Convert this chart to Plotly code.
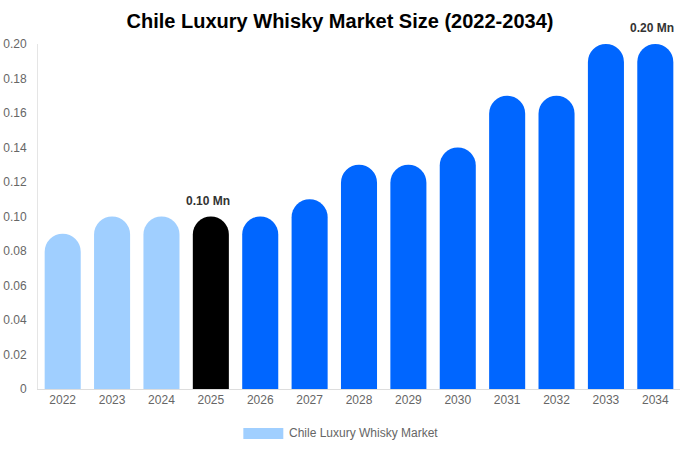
import plotly.graph_objects as go

# Chart data
years = ["2022", "2023", "2024", "2025", "2026", "2027", "2028",
         "2029", "2030", "2031", "2032", "2033", "2034"]
market_size = [0.09, 0.10, 0.10, 0.10, 0.10, 0.11, 0.13,
               0.13, 0.14, 0.17, 0.17, 0.20, 0.20]
tick_vals = [0, 0.02, 0.04, 0.06, 0.08, 0.10, 0.12, 0.14, 0.16, 0.18, 0.20]
tick_text = ["0", "0.02", "0.04", "0.06", "0.08", "0.10", "0.12",
             "0.14", "0.16", "0.18", "0.20"]
label_years = ["2025", "2034"]
label_text = ["0.10 Mn", "0.20 Mn"]

LIGHT = "#a0cfff"
DARK = "#000000"
BLUE = "#0066ff"

# past years light, base year black, forecast bright blue
colors = []
for y in years:
    if int(y) < 2025:
        colors.append(LIGHT)
    elif y == "2025":
        colors.append(DARK)
    else:
        colors.append(BLUE)

fig = go.Figure()
fig.add_trace(go.Bar(
    x=years,
    y=market_size,
    marker=dict(color=colors, cornerradius="50%", line=dict(width=0)),
    width=0.73,
    name="Chile Luxury Whisky Market",
    showlegend=False,
    hoverinfo="x+y",
))

# value labels, placed by category index
for yr, txt in zip(label_years, label_text):
    i = years.index(yr)
    fig.add_annotation(x=i, y=market_size[i], text="<b>" + txt + "</b>", showarrow=False,
                       xshift=-3, yshift=16, font=dict(size=12, color="#333333"))

# legend drawn by hand to get the wide swatch
fig.add_shape(type="rect", xref="paper", yref="paper",
              x0=(243 - 37.5) / 642.5, x1=(283 - 37.5) / 642.5,
              y0=-(428 - 389) / 345, y1=-(439 - 389) / 345,
              fillcolor=LIGHT, line=dict(width=0))
fig.add_annotation(xref="paper", yref="paper",
                   x=(287 - 37.5) / 642.5, y=-(433 - 389) / 345,
                   xanchor="left", yanchor="middle", showarrow=False,
                   text="Chile Luxury Whisky Market",
                   font=dict(size=12, color="#666666"))

fig.update_layout(
    width=680, height=450,
    margin=dict(l=37.5, r=0, t=44, b=61, autoexpand=False),
    paper_bgcolor="white", plot_bgcolor="white",
    font=dict(family="Liberation Sans, Arial, sans-serif", color="#666666", size=12),
    title=dict(text="<b>Chile Luxury Whisky Market Size (2022-2034)</b>",
               x=340 / 680, xanchor="center", y=1 - 21 / 450, yanchor="middle",
               font=dict(size=20, color="#000000")),
    xaxis=dict(type="category", range=[-0.5, len(years) - 0.5], showgrid=False,
               showline=True, linecolor="#dddddd", linewidth=1, ticks="",
               automargin=False, tickfont=dict(size=12, color="#666666")),
    yaxis=dict(range=[0, 0.2], tickvals=tick_vals, ticktext=tick_text,
               showgrid=False, zeroline=False, showline=True, linecolor="#e5e5e5",
               linewidth=1, ticks="", ticklabelstandoff=8, automargin=False,
               tickfont=dict(size=12, color="#666666")),
)

# drop the default page margin so the figure sits at the window corner
fig.write_html("out.html", config={"displayModeBar": False},
               post_script="document.body.style.margin='0';")
